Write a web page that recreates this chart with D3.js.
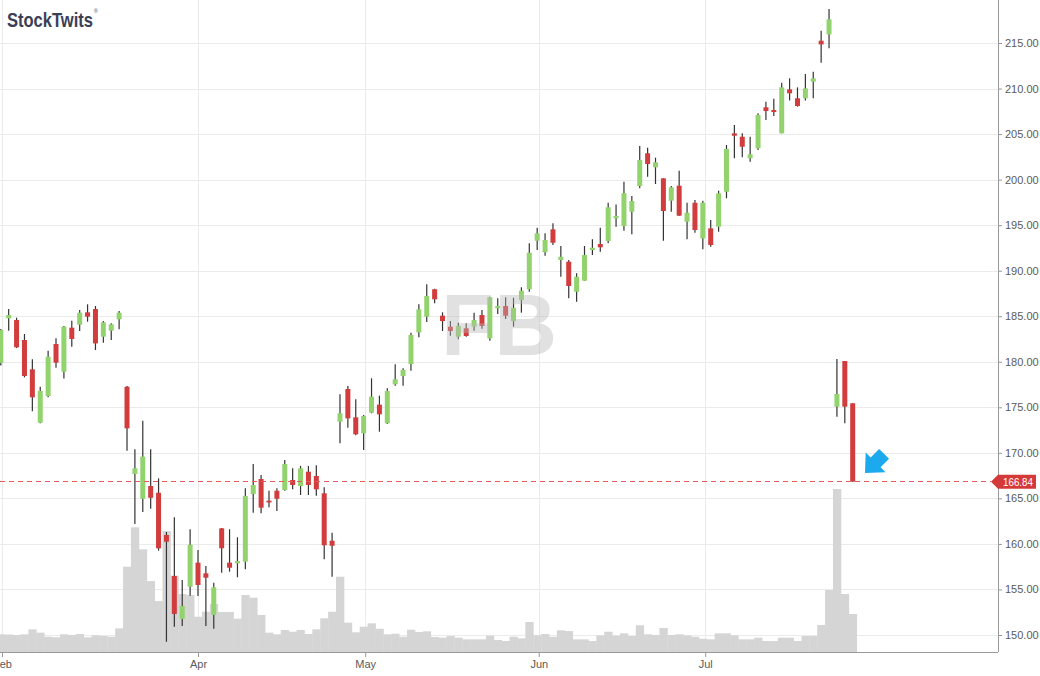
<!DOCTYPE html>
<html lang="en">
<head>
    <meta charset="UTF-8" />
    <title>FB daily candles</title>
    <script src="https://d3js.org/d3.v7.min.js"></script>
    <style>
        body { margin: 0; background: #fff; }
        svg { display: block; font-family: "Liberation Sans", Arial, sans-serif; }
    </style>
</head>
<body>
    <script>
        // daily OHLC (index 0 = first candle at the left edge)
        var opens = [179.86, 184.77, 184.58, 182.39, 179.17, 173.31, 176.24, 181.95, 178.91, 183.74,
            184.07, 185.43, 185.79, 182.75, 183.41, 184.66, 177.26, 167.68, 164.96, 166.36,
            165.62, 160.98, 156.48, 151.76, 155.30, 157.94, 156.77, 152.20, 161.71, 157.94,
            157.87, 158.05, 165.48, 167.13, 164.75, 165.84, 165.92, 167.02, 166.36, 167.93,
            167.46, 165.56, 160.35, 173.42, 177.01, 173.90, 172.15, 174.41, 175.29, 173.24,
            177.53, 178.44, 179.75, 183.23, 184.95, 187.96, 185.06, 183.85, 182.75, 183.67,
            183.85, 185.13, 182.57, 185.87, 186.12, 184.47, 186.78, 187.96, 193.29, 192.02,
            194.54, 191.17, 190.99, 187.69, 188.90, 192.27, 192.93, 193.26, 195.75, 194.91,
            196.48, 199.30, 202.89, 201.35, 200.14, 197.68, 199.33, 195.38, 197.46, 193.55,
            194.65, 194.83, 198.67, 205.08, 204.71, 202.34, 203.44, 207.94, 207.64, 205.08,
            209.91, 208.93, 208.93, 210.75, 215.25, 215.95, 175.07, 180.08, 175.44];
        var highs = [183.60, 185.79, 184.84, 183.05, 180.27, 177.26, 181.21, 182.58, 183.93, 184.51,
            185.68, 186.31, 186.12, 184.47, 184.22, 185.57, 177.34, 170.39, 173.53, 170.39,
            167.20, 161.31, 162.92, 156.04, 161.61, 159.33, 157.58, 155.74, 161.75, 161.61,
            160.73, 166.11, 168.77, 167.57, 165.84, 166.11, 169.21, 168.30, 168.56, 168.56,
            168.63, 166.22, 161.23, 176.43, 177.34, 175.88, 174.15, 178.18, 176.28, 177.09,
            179.72, 179.28, 183.19, 186.31, 188.50, 188.02, 185.43, 184.47, 184.29, 184.22,
            185.39, 185.68, 187.15, 186.97, 187.08, 187.03, 188.18, 193.01, 194.72, 194.10,
            195.20, 192.71, 191.17, 189.71, 192.71, 193.44, 194.72, 197.46, 197.28, 199.77,
            198.20, 203.69, 203.50, 202.41, 200.14, 199.30, 200.98, 197.46, 197.76, 197.68,
            195.56, 198.78, 203.80, 205.99, 205.08, 204.71, 207.28, 208.55, 208.88, 210.64,
            211.12, 210.13, 211.59, 211.85, 216.35, 218.73, 180.30, 180.08, 175.44];
        var lows = [179.60, 183.41, 181.50, 178.29, 174.56, 173.24, 176.10, 179.35, 178.17, 181.65,
            183.38, 184.40, 181.29, 182.09, 182.39, 183.56, 170.24, 162.19, 163.50, 163.87,
            159.26, 149.26, 150.91, 150.99, 154.31, 154.28, 150.99, 150.69, 156.84, 156.95,
            156.34, 157.21, 163.43, 163.36, 164.02, 163.61, 165.84, 166.00, 165.37, 165.37,
            165.29, 158.31, 156.40, 171.05, 172.76, 171.93, 170.31, 174.34, 172.32, 173.17,
            177.37, 177.37, 179.02, 182.69, 184.37, 186.42, 183.38, 182.86, 182.46, 182.75,
            183.41, 183.63, 182.31, 185.24, 184.69, 183.85, 185.39, 187.69, 192.27, 191.64,
            192.82, 189.34, 186.97, 186.60, 188.90, 191.72, 192.08, 193.01, 194.83, 194.39,
            194.00, 199.04, 200.32, 199.52, 193.29, 196.48, 196.00, 193.44, 194.17, 192.35,
            192.63, 194.28, 197.95, 202.34, 202.45, 201.97, 203.25, 206.54, 206.98, 205.08,
            208.69, 208.01, 208.69, 208.93, 212.84, 214.42, 173.97, 173.24, 166.84];
        var closes = [183.49, 185.13, 181.59, 178.44, 176.10, 176.79, 180.56, 179.90, 183.85, 182.50,
            185.39, 184.95, 182.02, 184.33, 184.11, 185.39, 172.69, 168.30, 169.58, 165.07,
            159.52, 160.24, 152.31, 153.18, 159.91, 155.49, 156.29, 155.24, 159.52, 157.39,
            158.12, 165.26, 166.47, 163.98, 164.57, 164.96, 168.77, 166.47, 168.30, 166.47,
            166.00, 159.85, 159.80, 174.34, 173.79, 172.04, 174.04, 176.17, 174.23, 176.79,
            178.07, 179.10, 182.94, 185.76, 187.22, 186.86, 184.47, 183.38, 183.93, 182.83,
            184.58, 183.93, 187.08, 186.12, 185.06, 185.93, 187.80, 191.97, 194.10, 193.37,
            193.07, 191.53, 188.32, 189.34, 191.72, 192.52, 192.57, 196.96, 196.00, 198.50,
            197.65, 202.15, 201.71, 201.90, 196.55, 199.15, 196.04, 196.37, 194.47, 197.46,
            192.82, 198.50, 203.36, 204.82, 203.61, 202.78, 207.09, 207.53, 207.42, 210.13,
            209.48, 208.08, 210.02, 211.12, 214.85, 217.60, 176.46, 175.07, 166.84];
        // volume in millions of shares
        var volumes = [18.4, 18.2, 17.7, 18.4, 23.6, 20.1, 15.9, 15.3, 18.4, 17.7,
            18.7, 15.3, 17.4, 16.6, 15.9, 24.6, 88.7, 129.7, 106.8, 73.8,
            53.0, 125.8, 79.4, 60.3, 59.3, 36.7, 41.9, 49.9, 41.6, 41.6,
            34.6, 59.3, 56.5, 38.5, 20.1, 18.4, 22.9, 21.1, 22.9, 18.7,
            23.6, 35.0, 41.9, 78.3, 30.5, 20.5, 26.3, 29.8, 24.2, 18.4,
            19.0, 15.9, 23.2, 20.8, 21.5, 15.6, 14.9, 16.6, 14.9, 13.2,
            13.2, 13.2, 17.0, 12.5, 11.4, 15.9, 14.2, 31.2, 17.4, 18.7,
            15.9, 22.6, 21.8, 13.2, 13.2, 11.4, 17.2, 21.1, 17.0, 19.4,
            16.6, 27.8, 18.4, 17.7, 25.0, 17.7, 18.4, 17.4, 15.9, 13.8,
            13.2, 19.4, 19.4, 17.4, 13.2, 13.2, 14.9, 11.4, 11.4, 14.9,
            14.9, 11.4, 16.6, 16.6, 28.1, 64.5, 169.5, 60.3, 39.5];

        var priceTicks = d3.range(150, 216, 5);
        var monthLabels = ["Feb", "Apr", "May", "Jun", "Jul"];
        var monthIdx = [0.15, 25, 46.2, 68.2, 89.3];
        var lastPrice = 166.84;
        var symbol = "FB";

        var w = 1040;
        var h = 676;
        var plotRight = 998;
        var plotBottom = 652;

        var svg = d3.select("body")
            .append("svg")
            .attr("width", w)
            .attr("height", h);

        // Scales
        var xScale = d3.scaleLinear()
            .domain([0, 108])
            .range([0.8, 852.7]);
        var step = xScale(1) - xScale(0);

        var yScale = d3.scaleLinear()
            .domain([150, 215])
            .range([635, 43]);

        var volScale = d3.scaleLinear()
            .domain([0, 170])
            .range([plotBottom, plotBottom - 170 / 1.04]);

        // grid lines
        svg.append("g")
            .selectAll("line")
            .data(priceTicks)
            .enter()
            .append("line")
            .attr("x1", 0)
            .attr("x2", plotRight)
            .attr("y1", function(d) { return Math.round(yScale(d)) + 0.5; })
            .attr("y2", function(d) { return Math.round(yScale(d)) + 0.5; })
            .attr("stroke", "#ebebeb");

        svg.append("g")
            .selectAll("line")
            .data(monthIdx)
            .enter()
            .append("line")
            .attr("x1", function(d) { return Math.round(xScale(d)) + 0.5; })
            .attr("x2", function(d) { return Math.round(xScale(d)) + 0.5; })
            .attr("y1", 0)
            .attr("y2", plotBottom)
            .attr("stroke", "#ebebeb");

        // volume histogram
        svg.append("g")
            .selectAll("rect")
            .data(volumes)
            .enter()
            .append("rect")
            .attr("x", function(d, i) { return xScale(i) - step / 2; })
            .attr("width", step + 0.4)
            .attr("y", function(d) { return volScale(d); })
            .attr("height", function(d) { return plotBottom - volScale(d); })
            .attr("fill", "#d5d5d5");

        // candles
        var candles = svg.append("g")
            .selectAll("g")
            .data(opens)
            .enter()
            .append("g");

        candles.append("line")
            .attr("x1", function(d, i) { return xScale(i); })
            .attr("x2", function(d, i) { return xScale(i); })
            .attr("y1", function(d, i) { return yScale(highs[i]); })
            .attr("y2", function(d, i) { return yScale(lows[i]); })
            .attr("stroke", "#333")
            .attr("stroke-width", 1.2);

        candles.append("rect")
            .attr("x", function(d, i) { return xScale(i) - 2.5; })
            .attr("width", 5)
            .attr("y", function(d, i) { return yScale(Math.max(d, closes[i])); })
            .attr("height", function(d, i) {
                return Math.max(1.8, Math.abs(yScale(d) - yScale(closes[i])));
            })
            .attr("fill", function(d, i) { return closes[i] >= d ? "#92d36e" : "#d23c3c"; });

        // ticker watermark sits over the candles
        svg.append("text")
            .attr("x", 499)
            .attr("y", 355)
            .attr("text-anchor", "middle")
            .attr("font-size", 87)
            .attr("font-weight", "bold")
            .attr("fill", "#b8b8b8")
            .attr("fill-opacity", 0.42)
            .text(symbol);

        // last price line
        var ly = yScale(lastPrice);
        svg.append("line")
            .attr("x1", 0)
            .attr("x2", 991)
            .attr("y1", Math.floor(ly) + 0.5)
            .attr("y2", Math.floor(ly) + 0.5)
            .attr("stroke", "#ea5a5a")
            .attr("stroke-width", 1.1)
            .attr("stroke-dasharray", "5,4");

        // blue arrow pointing at the last candle
        svg.append("path")
            .attr("d", "M0,0 L15,-14 L15,-7 L27,-7 L27,7 L15,7 L15,14 Z")
            .attr("transform", "translate(865,473) rotate(-45)")
            .attr("fill", "#1ca9ee");

        // axes
        var yAxis = d3.axisRight(yScale)
            .tickValues(priceTicks)
            .tickFormat(d3.format(".2f"))
            .tickSize(4)
            .tickSizeOuter(0)
            .tickPadding(3);

        var yg = svg.append("g")
            .attr("transform", "translate(" + plotRight + ",0)")
            .call(yAxis);
        yg.select(".domain").remove();
        yg.selectAll("line").attr("stroke", "#999");
        yg.selectAll("text").attr("fill", "#5a5a5a").attr("font-size", 11)
            .attr("font-family", "'Liberation Sans', Arial, sans-serif");

        var xAxis = d3.axisBottom(xScale)
            .tickValues(monthIdx)
            .tickFormat(function(d, i) { return monthLabels[i]; })
            .tickSize(5)
            .tickSizeOuter(0)
            .tickPadding(3);

        var xg = svg.append("g")
            .attr("transform", "translate(0," + plotBottom + ")")
            .call(xAxis);
        xg.select(".domain").remove();
        xg.selectAll("line").attr("stroke", "#999");
        xg.selectAll("text").attr("fill", "#5a5a5a").attr("font-size", 11)
            .attr("font-family", "'Liberation Sans', Arial, sans-serif");

        svg.append("line")
            .attr("x1", 0).attr("x2", plotRight)
            .attr("y1", plotBottom + 0.5).attr("y2", plotBottom + 0.5)
            .attr("stroke", "#999");
        svg.append("line")
            .attr("x1", plotRight + 0.5).attr("x2", plotRight + 0.5)
            .attr("y1", 0).attr("y2", plotBottom)
            .attr("stroke", "#999");

        // last price tag on the axis
        svg.append("path")
            .attr("d", "M991," + ly + " L998," + (ly - 7) + " L1036," + (ly - 7) +
                " L1036," + (ly + 7) + " L998," + (ly + 7) + " Z")
            .attr("fill", "#d43a3a");
        svg.append("text")
            .attr("x", 1003)
            .attr("y", ly + 4)
            .attr("font-size", 10.5)
            .attr("fill", "#fff")
            .attr("textLength", 30)
            .attr("lengthAdjust", "spacingAndGlyphs")
            .text(d3.format(".2f")(lastPrice));

        // logo (registered mark kept in the same text element)
        var logo = svg.append("text")
            .attr("x", 7)
            .attr("y", 27)
            .attr("fill", "#3a3f55");
        logo.append("tspan")
            .attr("font-size", 21)
            .attr("font-weight", "bold")
            .attr("textLength", 86)
            .attr("lengthAdjust", "spacingAndGlyphs")
            .text("StockTwits");
        logo.append("tspan")
            .attr("dx", 1)
            .attr("dy", -14)
            .attr("font-size", 5)
            .text("®");
    </script>
</body>
</html>
